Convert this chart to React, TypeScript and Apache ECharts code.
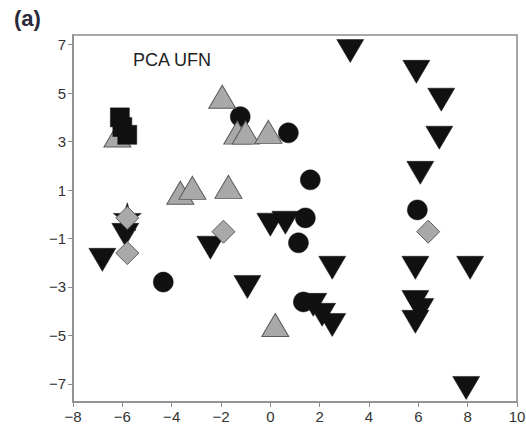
import React, { useEffect, useRef } from "react";
import * as echarts from "echarts";

const blackDownX = [-6.81, -5.88, -2.43, -0.93, 0.0, 0.61, 2.51, 1.74, 2.1, 2.51, 3.24, 5.92, 6.93, 6.85, 6.08, 5.88, 8.1, 5.88, 6.08, 5.88, 7.94];
const blackDownY = [-1.88, -0.85, -1.38, -3.0, -0.43, -0.35, -2.21, -3.74, -4.15, -4.57, 6.74, 5.88, 4.73, 3.16, 1.71, -2.21, -2.21, -3.62, -3.95, -4.44, -7.17];

const grayUpX = [-6.2, -3.65, -3.16, -1.7, -1.95, -1.34, -1.0, -0.08, 0.2];
const grayUpY = [3.25, 0.89, 1.09, 1.13, 4.85, 3.37, 3.37, 3.4, -4.57];

const blackCircleX = [-1.22, 0.73, 1.62, 5.96, 1.42, 1.14, -4.34, 1.34];
const blackCircleY = [4.03, 3.36, 1.42, 0.18, -0.15, -1.18, -2.8, -3.62];

const grayDiamondX = [-5.8, -5.8, -1.9, 6.4];
const grayDiamondY = [-0.15, -1.6, -0.72, -0.72];

const blackSquareX = [-6.1, -6.0, -5.8];
const blackSquareY = [4.0, 3.6, 3.28];

const blackStarX = [-5.8];
const blackStarY = [-0.1];

const xTicks = [-8, -6, -4, -2, 0, 2, 4, 6, 8, 10];
const yTicks = [-7, -5, -3, -1, 1, 3, 5, 7];

const zip = (xs: number[], ys: number[]) => xs.map((x, i) => [x, ys[i]]);
const fmt = (v: number | string) => String(v).replace("-", "\u2212");

export default function App() {
  const ref = useRef<HTMLDivElement>(null);
  useEffect(() => {
    if (!ref.current) return;
    const chart = echarts.init(ref.current, undefined, { renderer: "svg" });
    const black = { color: "#111111", borderColor: "#111111", borderWidth: 0.5, opacity: 1 };
    const gray = { color: "#a9a9a9", borderColor: "#5a5a5a", borderWidth: 1, opacity: 1 };
    chart.setOption({
      animation: false,
      backgroundColor: "#ffffff",
      grid: {
        left: 73,
        right: 9,
        top: 35,
        bottom: 35,
        show: true,
        containLabel: false,
        outerBoundsMode: "none",
        borderColor: "#8c8c8c",
        borderWidth: 1.5,
      },
      xAxis: {
        type: "value",
        min: -8,
        max: 10,
        interval: 2,
        splitLine: { show: false },
        axisLine: { show: true, onZero: false, lineStyle: { color: "#8c8c8c", width: 1.5 } },
        axisTick: { show: true, inside: false, length: 5, lineStyle: { color: "#8c8c8c" }, customValues: xTicks },
        axisLabel: {
          color: "#333",
          fontSize: 15,
          fontFamily: "Liberation Sans, Arial, sans-serif",
          margin: 7,
          customValues: xTicks,
          formatter: fmt,
        },
      },
      yAxis: {
        type: "value",
        min: -7.75,
        max: 7.4,
        splitLine: { show: false },
        axisLine: { show: true, onZero: false, lineStyle: { color: "#8c8c8c", width: 1.5 } },
        axisTick: { show: true, inside: false, length: 5, lineStyle: { color: "#8c8c8c" }, customValues: yTicks },
        axisLabel: {
          color: "#333",
          fontSize: 15,
          fontFamily: "Liberation Sans, Arial, sans-serif",
          margin: 7,
          customValues: yTicks,
          formatter: fmt,
        },
      },
      graphic: [
        {
          type: "text",
          left: 14,
          top: 7,
          style: { text: "(a)", font: "bold 22px Liberation Sans, Arial, sans-serif", fill: "#2a2a3a" },
        },
        {
          type: "text",
          left: 133,
          top: 51,
          style: { text: "PCA UFN", font: "18px Liberation Sans, Arial, sans-serif", fill: "#222" },
        },
      ],
      series: [
        {
          type: "scatter",
          data: zip(blackStarX, blackStarY),
          symbol: "path://M50,0 L61,35 L98,35 L68,57 L79,91 L50,70 L21,91 L32,57 L2,35 L39,35 Z",
          symbolSize: 28,
          itemStyle: black,
        },
        {
          type: "scatter",
          data: zip(blackDownX, blackDownY),
          symbol: "triangle",
          symbolRotate: 180,
          symbolSize: [27, 23],
          itemStyle: black,
        },
        {
          type: "scatter",
          data: zip(blackCircleX, blackCircleY),
          symbol: "circle",
          symbolSize: 20,
          itemStyle: black,
        },
        {
          type: "scatter",
          data: zip(grayUpX, grayUpY),
          symbol: "triangle",
          symbolSize: [27, 23],
          itemStyle: gray,
        },
        {
          type: "scatter",
          data: zip(grayDiamondX, grayDiamondY),
          symbol: "diamond",
          symbolSize: [23, 23],
          itemStyle: gray,
        },
        {
          type: "scatter",
          data: zip(blackSquareX, blackSquareY),
          symbol: "rect",
          symbolSize: 19,
          itemStyle: black,
        },
      ],
    });
    return () => chart.dispose();
  }, []);
  return (
    <div
      ref={ref}
      style={{ position: "absolute", left: 0, top: 0, width: 526, height: 437 }}
    />
  );
}
